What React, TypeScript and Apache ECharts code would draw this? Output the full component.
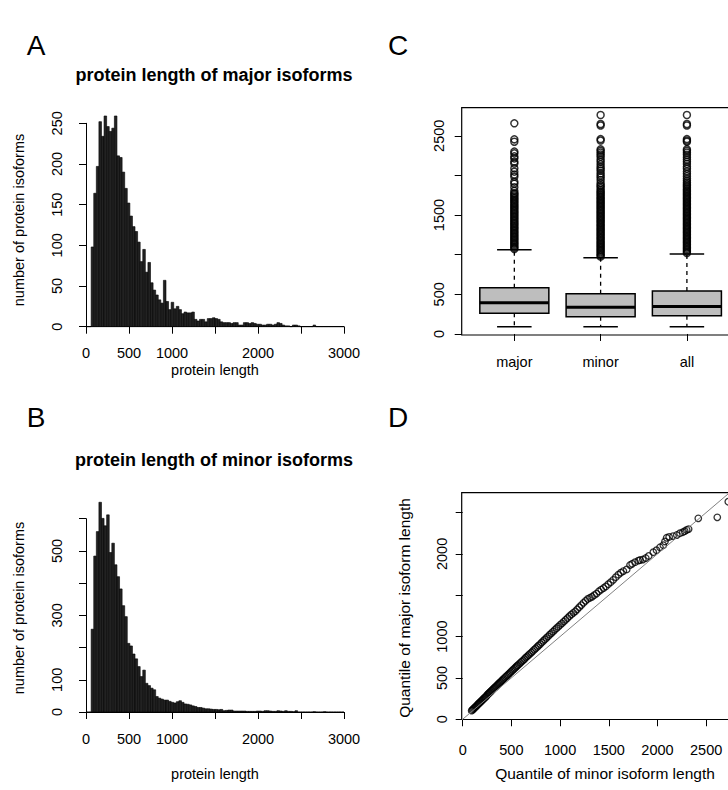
import React, { useEffect, useRef } from "react";
import * as echarts from "echarts";

const FONT = "'Liberation Sans', Arial, Helvetica, sans-serif";

// ---------- Panel A / B : histograms (bins of 30 from 0 to 3000) ----------
const binWidth = 30;
const majorCounts = [
  0, 0, 98, 164, 197, 252, 234, 259, 246, 240,
  244, 259, 210, 208, 190, 170, 152, 136, 123, 117,
  104, 80, 95, 67, 79, 54, 45, 39, 33, 29,
  57, 31, 21, 30, 22, 25, 21, 16, 18, 17,
  17, 18, 9, 7, 9, 9, 6, 10, 10, 11,
  10, 9, 6, 5, 5, 5, 4, 5, 5, 2,
  2, 5, 5, 4, 5, 4, 3, 3, 2, 2,
  3, 3, 2, 3, 5, 4, 2, 1, 1, 0,
  2, 2, 1, 0, 0, 0, 0, 0, 2, 0,
  0, 0, 0, 0, 0, 0, 0, 0, 0, 0,
];
const minorCounts = [
  0, 0, 257, 484, 560, 651, 601, 578, 612, 495,
  524, 457, 420, 382, 330, 296, 213, 205, 180, 165,
  141, 110, 130, 89, 82, 74, 69, 48, 43, 40,
  37, 37, 33, 30, 28, 32, 35, 30, 25, 24,
  22, 19, 17, 14, 14, 12, 10, 10, 9, 8,
  8, 7, 8, 4, 5, 6, 6, 3, 3, 3,
  3, 3, 2, 2, 2, 2, 3, 3, 2, 4,
  4, 3, 2, 2, 4, 3, 2, 4, 2, 2,
  1, 4, 0, 0, 0, 0, 0, 0, 1, 0,
  0, 0, 1, 0, 0, 0, 0, 0, 0, 0,
];
const histXLabels = [0, 500, 1000, 2000, 3000];
const majorYLabels = [0, 50, 100, 150, 200, 250];
const minorYLabels = [0, 100, 300, 500];

// ---------- Panel C : boxplots ----------
const groups = ["major", "minor", "all"];
const boxLowerWhisker = [92, 92, 92];
const boxQ1 = [260, 218, 231];
const boxMedian = [395, 336, 345];
const boxQ3 = [584, 508, 542];
const boxUpperWhisker = [1063, 962, 1008];
const majorOutliers = [
  1070, 1086, 1101, 1119, 1137, 1152, 1170, 1188, 1205, 1223, 1240, 1259, 1276, 1294,
  1311, 1330, 1347, 1365, 1384, 1401, 1420, 1437, 1455, 1474, 1491, 1510, 1528, 1546,
  1563, 1582, 1600, 1618, 1637, 1655, 1673, 1692, 1710, 1728, 1747, 1765, 1778, 1805,
  1850, 1895, 1921, 1984, 2010, 2047, 2089, 2150, 2173, 2215, 2240, 2278, 2300, 2425,
  2455, 2657,
];
const minorOutliers = [
  975, 992, 1010, 1028, 1046, 1063, 1081, 1099, 1117, 1135, 1152, 1170, 1188, 1206,
  1224, 1242, 1260, 1278, 1295, 1313, 1331, 1349, 1367, 1385, 1403, 1421, 1439, 1457,
  1474, 1492, 1510, 1528, 1546, 1564, 1582, 1600, 1618, 1636, 1654, 1672, 1690, 1708,
  1726, 1744, 1762, 1780, 1798, 1816, 1840, 1862, 1879, 1905, 1942, 1975, 2000, 2026,
  2060, 2085, 2110, 2140, 2173, 2200, 2236, 2262, 2287, 2310, 2329, 2440, 2458, 2630,
  2648, 2762,
];
const allOutliers = [
  1020, 1038, 1056, 1074, 1092, 1110, 1128, 1146, 1164, 1182, 1200, 1218, 1236, 1254,
  1272, 1290, 1308, 1326, 1344, 1362, 1380, 1398, 1416, 1434, 1452, 1470, 1488, 1506,
  1524, 1542, 1560, 1578, 1596, 1614, 1632, 1650, 1668, 1686, 1704, 1722, 1740, 1758,
  1776, 1794, 1812, 1830, 1850, 1870, 1890, 1912, 1935, 1960, 1990, 2020, 2050, 2085,
  2110, 2145, 2173, 2200, 2230, 2260, 2287, 2310, 2329, 2425, 2440, 2458, 2630, 2648,
  2762,
];
const boxYTicks = [0, 500, 1000, 1500, 2000, 2500];
const boxYLabels = [0, 500, 1500, 2500];

// ---------- Panel D : QQ plot (quantiles of minor vs major) ----------
const qqMinor = [
  92, 100, 108, 116, 124, 132, 140, 148, 156, 164, 172, 180, 188, 196, 204, 212, 220,
  228, 236, 244, 252, 260, 268, 276, 284, 292, 300, 310, 320, 330, 340, 350, 360, 370,
  380, 390, 400, 410, 420, 432, 444, 456, 468, 480, 492, 504, 516, 528, 540, 552, 564,
  578, 592, 606, 620, 634, 648, 662, 676, 690, 705, 720, 735, 750, 765, 780, 796, 812,
  828, 844, 860, 877, 894, 911, 928, 946, 964, 982, 1000, 1019, 1038, 1057, 1076, 1096,
  1116, 1136, 1156, 1176, 1197, 1218, 1240, 1262, 1284, 1306, 1328, 1350, 1374, 1398,
  1422, 1446, 1470, 1495, 1520, 1546, 1572, 1598, 1624, 1650,
  1684, 1718, 1740, 1770, 1803, 1821, 1850, 1880, 1910, 1957, 1990, 2026, 2060, 2077,
  2094, 2120, 2160, 2198, 2231, 2260, 2280, 2300, 2320, 2419, 2614, 2727,
];
const qqMajor = [
  104, 113, 122, 132, 141, 151, 160, 169, 179, 188, 197, 207, 216, 226, 235, 244, 254,
  263, 272, 281, 294, 303, 313, 322, 331, 341, 350, 362, 373, 385, 396, 408, 419, 431,
  442, 453, 465, 476, 488, 501, 515, 528, 542, 555, 569, 583, 596, 610, 624, 638, 651,
  666, 682, 697, 713, 728, 746, 761, 776, 791, 807, 824, 841, 858, 875, 892, 910, 929,
  947, 965, 984, 1003, 1023, 1042, 1061, 1081, 1101, 1120, 1140, 1161, 1182, 1203, 1224, 1246,
  1267, 1287, 1306, 1330, 1356, 1381, 1408, 1432, 1455, 1469, 1481, 1500, 1520, 1548,
  1568, 1587, 1606, 1634, 1657, 1686, 1718, 1748, 1772, 1792,
  1812, 1865, 1880, 1900, 1918, 1926, 1932, 1950, 1975, 2020, 2045, 2080, 2105, 2150,
  2195, 2205, 2215, 2228, 2250, 2262, 2275, 2289, 2300, 2430, 2442, 2631,
];
const qqTicks = [0, 500, 1000, 1500, 2000, 2500];
const qqXLabels = [0, 500, 1000, 1500, 2000, 2500];
const qqYLabels = [0, 500, 1000, 2000];

// ---------- helpers ----------
const labelStyle = { color: "#000", fontSize: 14.5, fontFamily: FONT };
const tickStyle = { show: true, length: 7, lineStyle: { color: "#000", width: 1 } };

function histRender(params: any, api: any) {
  const x0 = api.value(0);
  const x1 = api.value(1);
  const c = api.value(2);
  const b0 = api.coord([x0, 0]);
  const t1 = api.coord([x1, c]);
  if (c <= 0) {
    return {
      type: "line",
      shape: { x1: b0[0], y1: b0[1], x2: t1[0], y2: b0[1] },
      style: { stroke: "#000", lineWidth: 1 },
    };
  }
  return {
    type: "rect",
    shape: { x: b0[0], y: t1[1], width: t1[0] - b0[0], height: b0[1] - t1[1] },
    style: { fill: "#222", stroke: "#000", lineWidth: 0.6 },
  };
}

function boxRender(params: any, api: any) {
  const x = api.value(0);
  const lo = api.value(1);
  const q1 = api.value(2);
  const med = api.value(3);
  const q3 = api.value(4);
  const hi = api.value(5);
  const half = 0.4;
  const cap = 0.2;
  const tl = api.coord([x - half, q3]);
  const br = api.coord([x + half, q1]);
  const mL = api.coord([x - half, med]);
  const mR = api.coord([x + half, med]);
  const pHi = api.coord([x, hi]);
  const pLo = api.coord([x, lo]);
  const pQ3 = api.coord([x, q3]);
  const pQ1 = api.coord([x, q1]);
  const cHiL = api.coord([x - cap, hi]);
  const cHiR = api.coord([x + cap, hi]);
  const cLoL = api.coord([x - cap, lo]);
  const cLoR = api.coord([x + cap, lo]);
  const dash = { stroke: "#000", lineWidth: 1.3, lineDash: [4, 4] };
  const solid = { stroke: "#000", lineWidth: 1.5 };
  return {
    type: "group",
    children: [
      { type: "line", shape: { x1: pQ3[0], y1: pQ3[1], x2: pHi[0], y2: pHi[1] }, style: dash },
      { type: "line", shape: { x1: pQ1[0], y1: pQ1[1], x2: pLo[0], y2: pLo[1] }, style: dash },
      { type: "line", shape: { x1: cHiL[0], y1: cHiL[1], x2: cHiR[0], y2: cHiR[1] }, style: solid },
      { type: "line", shape: { x1: cLoL[0], y1: cLoL[1], x2: cLoR[0], y2: cLoR[1] }, style: solid },
      {
        type: "rect",
        shape: { x: tl[0], y: tl[1], width: br[0] - tl[0], height: br[1] - tl[1] },
        style: { fill: "#bebebe", stroke: "#000", lineWidth: 1.5 },
      },
      { type: "line", shape: { x1: mL[0], y1: mL[1], x2: mR[0], y2: mR[1] }, style: { stroke: "#000", lineWidth: 3 } },
    ],
  };
}

function textEl(text: string, x: number, y: number, size: number, opts: any = {}) {
  return {
    type: "text",
    x,
    y,
    rotation: opts.rotation || 0,
    style: {
      text,
      fontSize: size,
      fontWeight: opts.bold ? "bold" : "normal",
      fontFamily: FONT,
      fill: "#000",
      textAlign: "center",
      textVerticalAlign: "middle",
      align: "center",
      verticalAlign: "middle",
    },
  };
}

const plain = (v: number) => String(v);

export default function App() {
  const ref = useRef<HTMLDivElement>(null);
  useEffect(() => {
    const chart = echarts.init(ref.current!, null, { renderer: "svg" });
    const histData = (counts: number[]) => counts.map((c, i) => [i * binWidth, (i + 1) * binWidth, c]);
    const option: any = {
      animation: false,
      backgroundColor: "#fff",
      grid: [
        { left: 86, top: 123.3, width: 258, height: 203.4, outerBoundsMode: "none", containLabel: false },
        { left: 86, top: 518.7, width: 258, height: 193.3, outerBoundsMode: "none", containLabel: false },
        { left: 461.7, top: 107.7, width: 278.7, height: 227.3, outerBoundsMode: "none", containLabel: false, show: true, borderColor: "#000", borderWidth: 1.2, backgroundColor: "transparent" },
        { left: 461.7, top: 492.7, width: 281, height: 226.8, outerBoundsMode: "none", containLabel: false, show: true, borderColor: "#000", borderWidth: 1.2, backgroundColor: "transparent" },
      ],
      xAxis: [
        {
          type: "value", gridIndex: 0, min: 0, max: 3000, interval: 500, offset: 8.3,
          axisLine: { show: true, lineStyle: { color: "#000" } }, axisTick: tickStyle, splitLine: { show: false },
          axisLabel: { ...labelStyle, margin: 10, showMinLabel: true, showMaxLabel: true, formatter: (v: number) => (histXLabels.includes(v) ? String(v) : "") },
        },
        {
          type: "value", gridIndex: 1, min: 0, max: 3000, interval: 500, offset: 9.5,
          axisLine: { show: true, lineStyle: { color: "#000" } }, axisTick: tickStyle, splitLine: { show: false },
          axisLabel: { ...labelStyle, margin: 10, showMinLabel: true, showMaxLabel: true, formatter: (v: number) => (histXLabels.includes(v) ? String(v) : "") },
        },
        {
          type: "value", gridIndex: 2, min: 0.39, max: 3.62,
          axisLine: { show: false }, splitLine: { show: false },
          axisTick: { ...tickStyle, customValues: [1, 2, 3] },
          axisLabel: { ...labelStyle, margin: 19, customValues: [1, 2, 3], formatter: (v: number) => groups[Math.round(v) - 1] || "" },
        },
        {
          type: "value", gridIndex: 3, min: -10, max: 2875,
          axisLine: { show: false }, splitLine: { show: false },
          axisTick: { ...tickStyle, customValues: qqTicks },
          axisLabel: { ...labelStyle, margin: 23, customValues: qqXLabels, formatter: plain },
        },
      ],
      yAxis: [
        {
          type: "value", gridIndex: 0, min: 0, max: 250, interval: 50, offset: 10,
          axisLine: { show: true, lineStyle: { color: "#000" } }, axisTick: tickStyle, splitLine: { show: false },
          axisLabel: { ...labelStyle, rotate: 90, margin: 12, showMinLabel: true, showMaxLabel: true, formatter: (v: number) => (majorYLabels.includes(v) ? String(v) : "") },
        },
        {
          type: "value", gridIndex: 1, min: 0, max: 600, interval: 100, offset: 10,
          axisLine: { show: true, lineStyle: { color: "#000" } }, axisTick: tickStyle, splitLine: { show: false },
          axisLabel: { ...labelStyle, rotate: 90, margin: 12, showMinLabel: true, showMaxLabel: true, formatter: (v: number) => (minorYLabels.includes(v) ? String(v) : "") },
        },
        {
          type: "value", gridIndex: 2, min: -13, max: 2854,
          axisLine: { show: false }, splitLine: { show: false },
          axisTick: { ...tickStyle, customValues: boxYTicks },
          axisLabel: { ...labelStyle, rotate: 90, margin: 15, customValues: boxYLabels, formatter: plain },
        },
        {
          type: "value", gridIndex: 3, min: -3, max: 2740,
          axisLine: { show: false }, splitLine: { show: false },
          axisTick: { ...tickStyle, customValues: qqTicks },
          axisLabel: { ...labelStyle, rotate: 90, margin: 12, customValues: qqYLabels, formatter: plain },
        },
      ],
      series: [
        { type: "custom", xAxisIndex: 0, yAxisIndex: 0, clip: false, renderItem: histRender, data: histData(majorCounts), encode: { x: [0, 1], y: 2 } },
        { type: "custom", xAxisIndex: 1, yAxisIndex: 1, clip: false, renderItem: histRender, data: histData(minorCounts), encode: { x: [0, 1], y: 2 } },
        {
          type: "custom", xAxisIndex: 2, yAxisIndex: 2, renderItem: boxRender,
          data: groups.map((g, i) => [i + 1, boxLowerWhisker[i], boxQ1[i], boxMedian[i], boxQ3[i], boxUpperWhisker[i]]),
          encode: { x: 0, y: [1, 2, 3, 4, 5] },
        },
        {
          type: "scatter", xAxisIndex: 2, yAxisIndex: 2, symbol: "circle", symbolSize: 7,
          itemStyle: { color: "rgba(0,0,0,0)", borderColor: "#000", borderWidth: 1.5 },
          data: [
            ...majorOutliers.map((v) => [1, v]),
            ...minorOutliers.map((v) => [2, v]),
            ...allOutliers.map((v) => [3, v]),
          ],
        },
        {
          type: "line", xAxisIndex: 3, yAxisIndex: 3, showSymbol: false, clip: true,
          lineStyle: { color: "#808080", width: 1 },
          data: [[-10, -10], [2875, 2875]],
        },
        {
          type: "scatter", xAxisIndex: 3, yAxisIndex: 3, symbol: "circle", symbolSize: 6.5, clip: false,
          itemStyle: { color: "rgba(0,0,0,0)", borderColor: "#000", borderWidth: 1.3 },
          data: qqMinor.map((m, i) => [m, qqMajor[i]]),
        },
      ],
      graphic: [
        textEl("A", 36, 45, 28),
        textEl("C", 398, 45, 28),
        textEl("B", 36, 417, 28),
        textEl("D", 398, 417, 28),
        textEl("protein length of major isoforms", 214, 75, 18, { bold: true }),
        textEl("protein length of minor isoforms", 214, 460, 18, { bold: true }),
        textEl("protein length", 215, 370, 14.5),
        textEl("protein length", 215, 774, 14.5),
        textEl("number of protein isoforms", 19, 220, 14.5, { rotation: Math.PI / 2 }),
        textEl("number of protein isoforms", 19, 608, 14.5, { rotation: Math.PI / 2 }),
        textEl("Quantile of minor isoform length", 605, 773, 15.5),
        textEl("Quantile of major isoform length", 404, 608, 15.5, { rotation: Math.PI / 2 }),
      ],
    };
    chart.setOption(option);
    return () => chart.dispose();
  }, []);
  return (
    <div
      ref={ref}
      style={{ position: "fixed", left: 0, top: 0, width: 728, height: 790, background: "#fff" }}
    />
  );
}
